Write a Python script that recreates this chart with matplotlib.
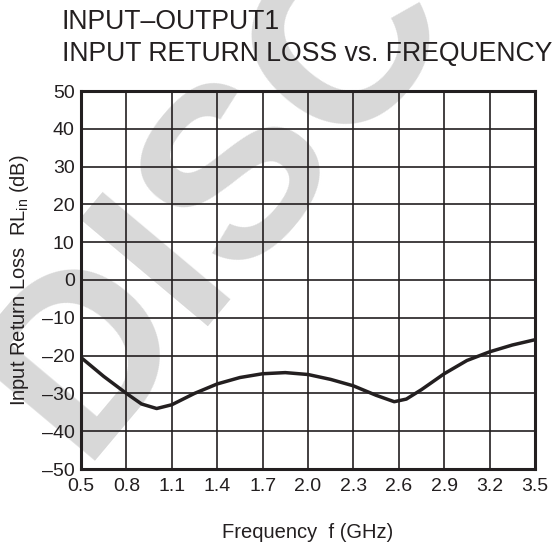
import matplotlib
matplotlib.use("Agg")
import matplotlib.pyplot as plt
import numpy as np

plt.rcParams['font.family'] = ['Liberation Sans', 'DejaVu Sans']
plt.rcParams['mathtext.fontset'] = 'custom'
plt.rcParams['mathtext.rm'] = 'Liberation Sans'

# curve
freq = [0.5, 0.65, 0.8, 0.9, 1.0, 1.1, 1.25, 1.4, 1.55, 1.7, 1.85, 2.0, 2.15, 2.3, 2.45, 2.57, 2.65, 2.75, 2.9, 3.05, 3.2, 3.35, 3.5]
rl_in = [-20.5, -25.5, -30.0, -32.8, -34.0, -33.0, -30.0, -27.5, -25.8, -24.8, -24.5, -25.0, -26.3, -28.0, -30.5, -32.2, -31.5, -29.0, -24.8, -21.3, -19.0, -17.2, -15.8]

x_ticks = [0.5, 0.8, 1.1, 1.4, 1.7, 2.0, 2.3, 2.6, 2.9, 3.2, 3.5]
y_ticks = [-50, -40, -30, -20, -10, 0, 10, 20, 30, 40, 50]

W, H = 556, 543
fig = plt.figure(figsize=(W / 100, H / 100), dpi=100)
ax = fig.add_axes([81 / W, 1 - 469 / H, 454 / W, 378 / H])
ax.set_facecolor('none')

# "DISC" watermark, sits behind everything
fig.text(79 / W, 1 - 461 / H, 'DISC', fontsize=176, fontweight='bold', color='#d8d8d8',
         rotation=50, rotation_mode='anchor', ha='left', va='baseline', zorder=-5)

ink = '#231f20'
ax.plot(freq, rl_in, color=ink, lw=2.5, zorder=3)

ax.set_xlim(0.5, 3.5)
ax.set_ylim(-50, 50)
ax.set_xticks(x_ticks)
ax.set_yticks(y_ticks)
ax.set_xticklabels(['%.1f' % v for v in x_ticks])
ax.set_yticklabels([str(v).replace('-', '\u2013') for v in y_ticks])
ax.tick_params(length=0, labelsize=14, colors=ink)
ax.tick_params(axis='x', pad=6.5)
ax.tick_params(axis='y', pad=4.5)
ax.grid(True, color=ink, lw=1.2)
for s in ax.spines.values():
    s.set_linewidth(2.2)
    s.set_color(ink)

ax.set_xlabel('Frequency  f (GHz)', fontsize=14.5, labelpad=20, color=ink)
ax.set_ylabel('Input Return Loss  RL$_{\\mathrm{in}}$ (dB)', fontsize=14.5, labelpad=8, color=ink)

fig.text(62 / W, 1 - 29 / H, 'INPUT\u2013OUTPUT1', fontsize=19.2, color=ink, va='baseline')
fig.text(62 / W, 1 - 61 / H, 'INPUT RETURN LOSS vs. FREQUENCY', fontsize=19.2, color=ink, va='baseline')

fig.savefig('out.png', dpi=100)
